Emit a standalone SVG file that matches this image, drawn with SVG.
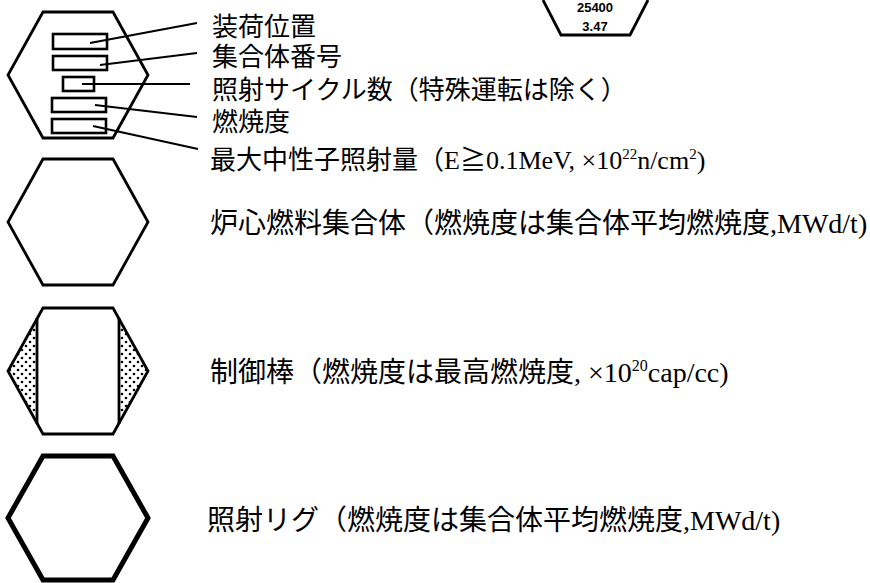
<svg xmlns="http://www.w3.org/2000/svg" width="870" height="583" viewBox="0 0 870 583">
<style>
.hex{fill:none;stroke:#000;stroke-width:2.8;stroke-linejoin:miter}
.thick{fill:none;stroke:#000;stroke-width:5;stroke-linejoin:miter}
.box{fill:none;stroke:#000;stroke-width:2.6}
.lead{fill:none;stroke:#000;stroke-width:2.2}
.lbl{font-family:'Liberation Serif','Noto Sans CJK JP',serif;fill:#000}
.top{font-size:26px}
.big{font-size:28px}
.num{font-family:'Liberation Sans',sans-serif;font-weight:bold;font-size:13px;text-anchor:middle;fill:#000}
</style>
<defs>
<pattern id="dots" width="8" height="8" patternUnits="userSpaceOnUse">
<circle cx="2" cy="2" r="1.3" fill="#000"/>
<circle cx="6" cy="6" r="1.3" fill="#000"/>
</pattern>
</defs>
<g id="partial-hex">
<polyline class="hex" points="543,0 561,35 630,35 648,0"/>
<text class="num" x="595" y="12">25400</text>
<text class="num" x="595" y="31">3.47</text>
</g>
<g id="legend-layout">
<polygon class="hex" points="43,12 113,12 148,75 113,138 43,138 8,75"/>
<rect class="box" x="53" y="34" width="54" height="15"/>
<rect class="box" x="53" y="56" width="54" height="14"/>
<rect class="box" x="63" y="77" width="31" height="14"/>
<rect class="box" x="52" y="98" width="54" height="14"/>
<rect class="box" x="52" y="119" width="54" height="14"/>
<text class="lbl top" x="212" y="36">装荷位置</text>
<text class="lbl top" x="212" y="66">集合体番号</text>
<text class="lbl top" x="212" y="99">照射サイクル数（特殊運転は除く）</text>
<text class="lbl top" x="212" y="131">燃焼度</text>
<text class="lbl top" x="210" y="169">最大中性子照射量（E≧0.1MeV, ×10<tspan font-size="15" dy="-10">22</tspan><tspan dy="10">n/cm</tspan><tspan font-size="15" dy="-10">2</tspan><tspan dy="10">)</tspan></text>
</g>
<g id="core-fuel">
<polygon class="hex" points="43,159 113,159 148,222 113,285 43,285 8,222"/>
<text class="lbl big" x="210" y="233">炉心燃料集合体（燃焼度は集合体平均燃焼度,MWd/t)</text>
</g>
<g id="control-rod">
<polygon points="37,319 37,423 8,371" fill="url(#dots)"/>
<polygon points="119,319 119,423 148,371" fill="url(#dots)"/>
<polygon class="hex" points="43,308 113,308 148,371 113,434 43,434 8,371"/>
<line class="hex" x1="37" y1="318" x2="37" y2="424"/>
<line class="hex" x1="119" y1="318" x2="119" y2="424"/>
<text class="lbl big" x="210" y="382">制御棒（燃焼度は最高燃焼度, ×10<tspan font-size="16" dy="-11">20</tspan><tspan dy="11">cap/cc)</tspan></text>
</g>
<g id="irradiation-rig">
<polygon class="thick" points="43,456 113,456 148,518 113,580 43,580 8,518"/>
<text class="lbl big" x="207" y="530">照射リグ（燃焼度は集合体平均燃焼度,MWd/t)</text>
</g>
<g id="connectors">
<line class="lead" x1="90" y1="43" x2="197" y2="23"/>
<line class="lead" x1="100" y1="65" x2="197" y2="53"/>
<line class="lead" x1="82" y1="84" x2="190" y2="84"/>
<line class="lead" x1="95" y1="105" x2="197" y2="117"/>
<line class="lead" x1="93" y1="126" x2="198" y2="149"/>
</g>
</svg>
